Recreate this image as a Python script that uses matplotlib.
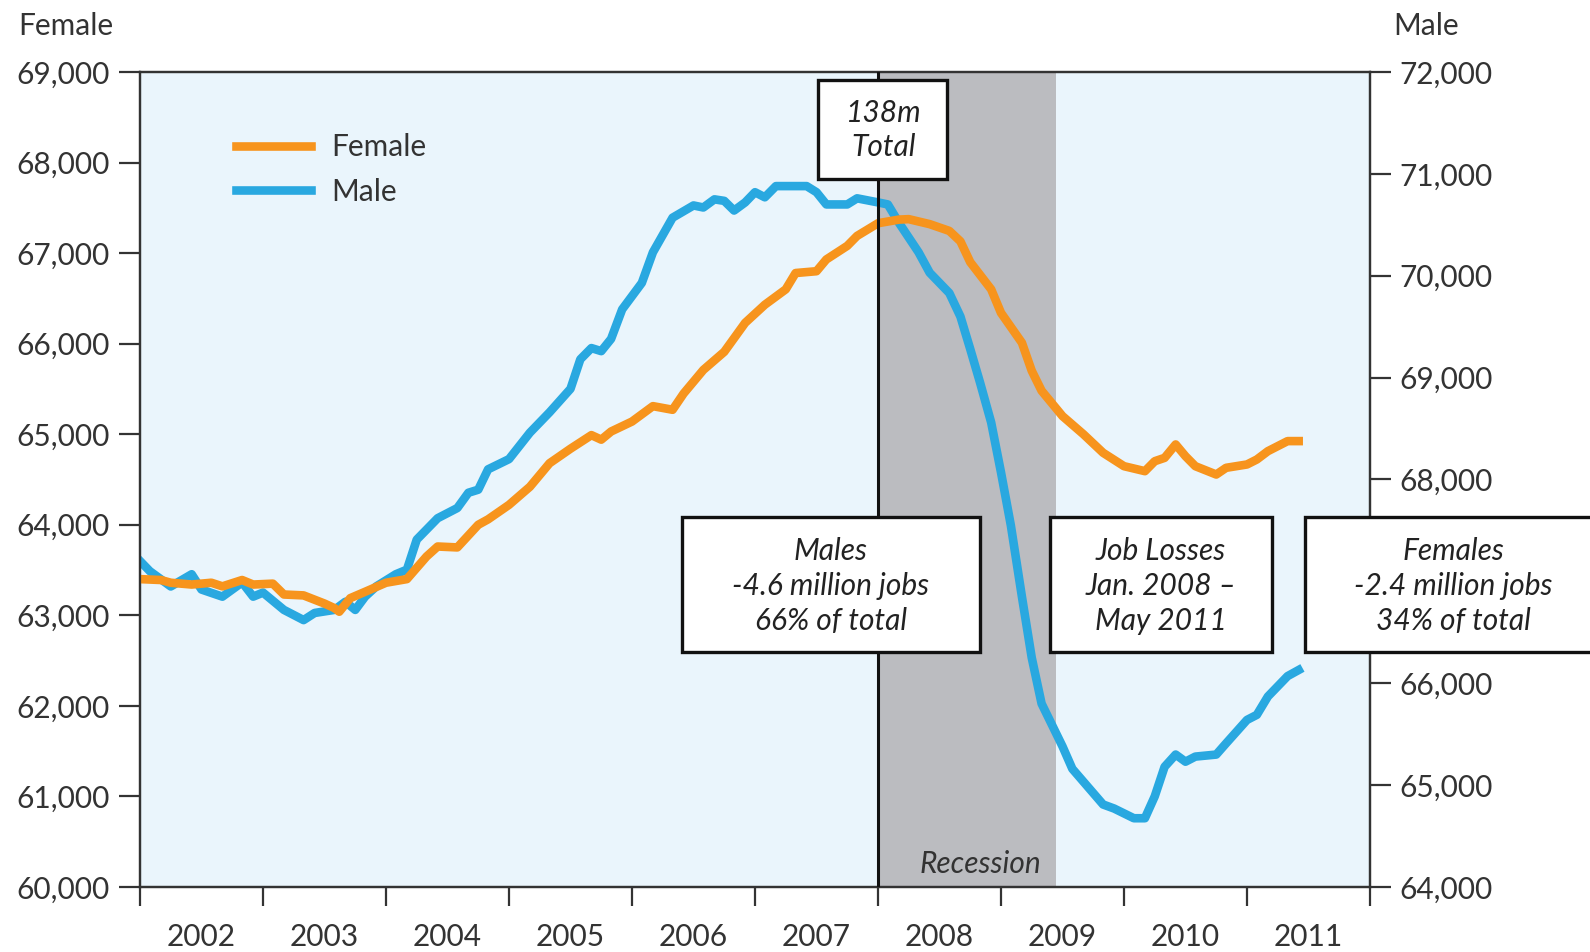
import numpy as np
import matplotlib.pyplot as plt
from matplotlib.patches import Rectangle
from matplotlib.ticker import FuncFormatter

plt.rcParams['font.family'] = ['Lato', 'DejaVu Sans']

# employment, thousands of jobs (decimal year, value)
female_t = [2002.00, 2002.17, 2002.25, 2002.42, 2002.58, 2002.67, 2002.83, 2002.92,
            2003.08, 2003.17, 2003.33, 2003.50, 2003.58, 2003.62, 2003.71, 2003.83,
            2004.00, 2004.17, 2004.33, 2004.42, 2004.58, 2004.75, 2004.83, 2005.00,
            2005.17, 2005.33, 2005.50, 2005.67, 2005.75, 2005.83, 2006.00, 2006.17,
            2006.33, 2006.42, 2006.58, 2006.75, 2006.92, 2007.08, 2007.25, 2007.33,
            2007.50, 2007.58, 2007.75, 2007.83, 2008.00, 2008.17, 2008.25, 2008.42,
            2008.58, 2008.67, 2008.75, 2008.92, 2009.00, 2009.17, 2009.25, 2009.33,
            2009.50, 2009.67, 2009.83, 2010.00, 2010.17, 2010.25, 2010.33, 2010.42,
            2010.50, 2010.58, 2010.75, 2010.83, 2011.00, 2011.08, 2011.17, 2011.33,
            2011.42]
female_v = [63400, 63390, 63360, 63340, 63360, 63320, 63390, 63340,
            63350, 63230, 63220, 63130, 63080, 63040, 63190, 63260,
            63360, 63400, 63650, 63760, 63750, 64000, 64060, 64220,
            64420, 64680, 64840, 64990, 64940, 65030, 65140, 65310,
            65270, 65450, 65710, 65910, 66230, 66430, 66600, 66780,
            66800, 66930, 67080, 67190, 67330, 67370, 67375, 67320,
            67245, 67130, 66900, 66600, 66340, 66010, 65700, 65480,
            65200, 65000, 64795, 64647, 64592, 64702, 64739, 64887,
            64757, 64647, 64555, 64629, 64666, 64721, 64813, 64924,
            64924]

male_t = [2002.00, 2002.08, 2002.25, 2002.42, 2002.50, 2002.67, 2002.83, 2002.92,
          2003.00, 2003.17, 2003.33, 2003.42, 2003.58, 2003.67, 2003.75, 2003.83,
          2003.92, 2004.08, 2004.17, 2004.25, 2004.42, 2004.58, 2004.67, 2004.75,
          2004.83, 2005.00, 2005.17, 2005.33, 2005.50, 2005.58, 2005.67, 2005.75,
          2005.83, 2005.92, 2006.08, 2006.17, 2006.33, 2006.50, 2006.58, 2006.67,
          2006.75, 2006.83, 2006.92, 2007.00, 2007.08, 2007.17, 2007.42, 2007.50,
          2007.58, 2007.75, 2007.83, 2008.00, 2008.08, 2008.17, 2008.33, 2008.42,
          2008.58, 2008.67, 2008.75, 2008.83, 2008.92, 2009.00, 2009.08, 2009.17,
          2009.25, 2009.33, 2009.50, 2009.58, 2009.83, 2009.92, 2010.08, 2010.17,
          2010.25, 2010.33, 2010.42, 2010.50, 2010.58, 2010.75, 2010.83, 2011.00,
          2011.08, 2011.17, 2011.33, 2011.42]
male_v = [67200, 67100, 66950, 67070, 66920, 66850, 66990, 66850,
          66890, 66720, 66620, 66690, 66720, 66800, 66720, 66850,
          66950, 67070, 67115, 67410, 67620, 67720, 67870, 67900,
          68100, 68200, 68460, 68660, 68890, 69180, 69290, 69260,
          69380, 69670, 69930, 70230, 70570, 70690, 70670, 70750,
          70735, 70640, 70720, 70820, 70770, 70880, 70880, 70820,
          70700, 70700, 70760, 70720, 70700, 70520, 70230, 70030,
          69830, 69600, 69280, 68950, 68560, 68070, 67550, 66850,
          66250, 65800, 65380, 65160, 64810, 64770, 64675, 64675,
          64890, 65180, 65300, 65230, 65280, 65300, 65410, 65640,
          65690, 65870, 66070, 66130]

years = list(range(2002, 2012))
female_ticks = list(range(60000, 69001, 1000))
male_ticks = list(range(64000, 72001, 1000))
male_hidden = 67000  # label sits behind the Females box
rec_start, rec_end = 2008.0, 2009.45

W, H = 1590, 952
FS = 21.5
fig = plt.figure(figsize=(W / 100, H / 100), dpi=100)
ax = fig.add_axes([140 / W, 1 - 887 / H, 1230 / W, 815 / H])
ax2 = ax.twinx()

# female axis on top, male axis carries the background
ax.set_zorder(2)
ax.patch.set_visible(False)
ax2.set_zorder(1)
ax2.patch.set_visible(True)
ax2.patch.set_facecolor('#EAF5FC')

ax2.axvspan(rec_start, rec_end, color='#BBBCC0', lw=0, zorder=0.5)
lm, = ax2.plot(male_t, male_v, color='#29A8E0', lw=6.2, solid_joinstyle='round', label='Male')
lf, = ax.plot(female_t, female_v, color='#F7941D', lw=6.2, solid_joinstyle='round', label='Female')
ax.axvline(rec_start, color='#111111', lw=2.2, zorder=4)

ax.set_xlim(2002, 2012)
ax.set_ylim(60000, 69000)
ax2.set_ylim(64000, 72000)

ax.set_xticks(years + [2012])
ax.set_xticklabels([])
ax.set_xticks([y + 0.5 for y in years], minor=True)
ax.set_xticklabels([str(y) for y in years], minor=True)
ax.tick_params(axis='x', which='major', length=14, width=1.6, color='#333333')
ax.tick_params(axis='x', which='minor', length=0, pad=26, labelsize=FS, labelcolor='#333333')

ax.set_yticks(female_ticks)
ax.yaxis.set_major_formatter(FuncFormatter(lambda v, p: '{:,.0f}'.format(v)))
ax2.set_yticks(male_ticks)
ax2.yaxis.set_major_formatter(
    FuncFormatter(lambda v, p: '' if v == male_hidden else '{:,.0f}'.format(v)))
ax.tick_params(axis='y', length=15, width=1.6, color='#333333', pad=7, labelsize=FS, labelcolor='#333333')
ax2.tick_params(axis='y', length=15, width=1.6, color='#333333', pad=6, labelsize=FS, labelcolor='#333333')

for a in (ax, ax2):
    for s in a.spines.values():
        s.set_color('#333333')
        s.set_linewidth(1.6)

ax.legend(handles=[lf, lm], loc='upper left', bbox_to_anchor=(0.078, 0.925),
          frameon=False, fontsize=FS, handlelength=2.5, handletextpad=0.7,
          labelspacing=0.55, borderpad=0, borderaxespad=0, labelcolor='#333333')

fig.text(18 / W, 1 - 26 / H, 'Female', ha='left', va='center', fontsize=FS, color='#333333')
fig.text(1393 / W, 1 - 26 / H, 'Male', ha='left', va='center', fontsize=FS, color='#333333')


def note_box(x0, y0, x1, y1, lines, cx, cy, step=35):
    fig.add_artist(Rectangle((x0 / W, 1 - y1 / H), (x1 - x0) / W, (y1 - y0) / H,
                             transform=fig.transFigure, facecolor='white',
                             edgecolor='#111111', lw=2.4, zorder=5, clip_on=False))
    top = cy - step * (len(lines) - 1) / 2
    for i, s in enumerate(lines):
        fig.text(cx / W, 1 - (top + i * step) / H, s, ha='center', va='center',
                 fontsize=FS, style='italic', color='#222222', zorder=6)


note_box(818, 80, 947, 179, ['138m', 'Total'], 884, 130)
note_box(682, 517, 980, 652, ['Males', '-4.6 million jobs', '66% of total'], 831, 586)
note_box(1050, 517, 1272, 652, ['Job Losses', 'Jan. 2008 \u2013', 'May 2011'], 1161, 586)
note_box(1305, 517, 1600, 652, ['Females', '-2.4 million jobs', '34% of total'], 1453, 586)

fig.text(980 / W, 1 - 864 / H, 'Recession', ha='center', va='center', fontsize=FS,
         style='italic', color='#333333', zorder=6)

fig.savefig('out.png', dpi=100)
